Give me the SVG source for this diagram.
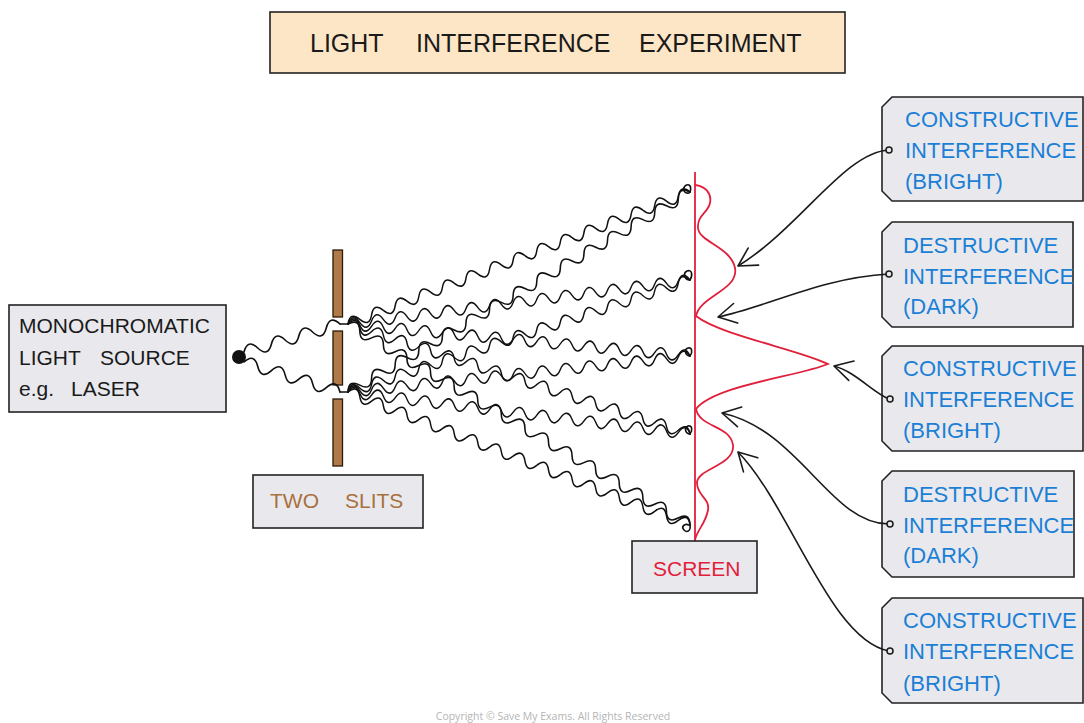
<svg xmlns="http://www.w3.org/2000/svg" xmlns:xlink="http://www.w3.org/1999/xlink" width="1084" height="723" viewBox="0 0 1084 723">
  <style>
    .box { fill: #e9e9ed; stroke: #222; stroke-width: 1.6; }
    .title-box { fill: #fde6c6; stroke: #222; stroke-width: 1.6; }
    .lbl { font-family: "Liberation Sans", Arial, sans-serif; font-size: 21px; }
    .dark { fill: #1a1a1a; }
    .blue { fill: #1b7fd6; font-size: 22px; }
    .brown { fill: #a8703c; }
    .red { fill: #e21f3b; }
    .wave { fill: none; stroke: #111; stroke-width: 1.6; vector-effect: non-scaling-stroke; stroke-linecap: round; }
    .conn { fill: none; stroke: #1a1a1a; stroke-width: 1.6; marker-end: url(#chevron); }
    .dot { fill: #e9e9ed; stroke: #1a1a1a; stroke-width: 1.5; }
    .slit { fill: #b07a48; stroke: #2a1a0a; stroke-width: 1.3; }
  </style>
  <defs>
    <!-- sine-like wave, 406 units long, half-wavelength 14 -->
    <path id="wave" d="M0,0 q7,-11 14,0 t14,0 t14,0 t14,0 t14,0 t14,0 t14,0 t14,0 t14,0 t14,0 t14,0 t14,0 t14,0 t14,0 t14,0 t14,0 t14,0 t14,0 t14,0 t14,0 t14,0 t14,0 t14,0 t14,0 t14,0 t14,0 t14,0 t14,0 t14,0"/>
    <!-- shorter wave from the source to the slits -->
    <path id="wave-in" d="M0,0 q7,-12 14,0 t14,0 t14,0 t14,0 t14,0 t14,0 t14,0"/>
    <marker id="chevron" viewBox="-20 -12 22 24" refX="0" refY="0" markerWidth="22" markerHeight="24" markerUnits="userSpaceOnUse" orient="auto">
      <path d="M-18,-10 L0,0 L-18,10" fill="none" stroke="#1a1a1a" stroke-width="1.6" stroke-linecap="round" stroke-linejoin="round"/>
    </marker>
  </defs>

  <rect width="1084" height="723" fill="#ffffff"/>

  <!-- title -->
  <g id="title">
    <rect class="title-box" x="270" y="12" width="575" height="61"/>
    <text class="lbl dark" style="font-size:25px" y="52">
      <tspan x="310">LIGHT</tspan><tspan x="416">INTERFERENCE</tspan><tspan x="639">EXPERIMENT</tspan>
    </text>
  </g>

  <!-- light source -->
  <g id="source">
    <rect class="box" x="9" y="305" width="217" height="107"/>
    <text class="lbl dark" y="333"><tspan x="19">MONOCHROMATIC</tspan></text>
    <text class="lbl dark" y="365"><tspan x="19">LIGHT</tspan><tspan x="100">SOURCE</tspan></text>
    <text class="lbl dark" y="396"><tspan x="19">e.g.</tspan><tspan x="71">LASER</tspan></text>
    <circle cx="239" cy="357" r="7" fill="#111"/>
  </g>

  <!-- double-slit barrier -->
  <g id="slits">
    <rect class="slit" x="333" y="250" width="9.5" height="67"/>
    <rect class="slit" x="333" y="331" width="9.5" height="54"/>
    <rect class="slit" x="333" y="399" width="9.5" height="67"/>
    <rect class="box" x="253" y="475" width="170" height="53"/>
    <text class="lbl brown" y="508"><tspan x="270">TWO</tspan><tspan x="345">SLITS</tspan></text>
  </g>

  <!-- wavefronts -->
  <g id="waves">
    <use xlink:href="#wave-in" class="wave" transform="translate(244,352) rotate(-16.26) scale(1.02,1)"/>
    <use xlink:href="#wave-in" class="wave" transform="translate(244,362) rotate(17.35) scale(1.026,1)"/>
    <path class="wave" d="M340,324 L348,324 M340,392 L348,392"/>
    <!-- from upper slit -->
    <use xlink:href="#wave" class="wave" transform="translate(348,324) rotate(-21.1) scale(0.903,1)"/>
    <use xlink:href="#wave" class="wave" transform="translate(348,324) rotate(-7.33) scale(0.849,1)"/>
    <use xlink:href="#wave" class="wave" transform="translate(348,324) rotate(5.35) scale(0.846,1)"/>
    <use xlink:href="#wave" class="wave" transform="translate(348,324) rotate(17.83) scale(0.885,1)"/>
    <use xlink:href="#wave" class="wave" transform="translate(348,324) rotate(30.44) scale(0.977,1)"/>
    <!-- from lower slit -->
    <use xlink:href="#wave" class="wave" transform="translate(348,392) rotate(-30.31) scale(0.976,1)"/>
    <use xlink:href="#wave" class="wave" transform="translate(348,392) rotate(-18.13) scale(0.886,1)"/>
    <use xlink:href="#wave" class="wave" transform="translate(348,392) rotate(-6.01) scale(0.847,1)"/>
    <use xlink:href="#wave" class="wave" transform="translate(348,392) rotate(7.0) scale(0.849,1)"/>
    <use xlink:href="#wave" class="wave" transform="translate(348,392) rotate(21.25) scale(0.904,1)"/>
    <!-- curls where each pair meets the screen -->
    <path class="wave" d="M690,192 c2,-6 -1,-9 -5,-6 c-3,3 -1,8 4,7"/>
    <path class="wave" d="M690,280 c3,-5 2,-11 -3,-9 c-4,2 -3,8 2,9"/>
    <path class="wave" d="M690,356 c3,-4 2,-9 -2,-8 c-4,1 -3,7 1,8"/>
    <path class="wave" d="M690,434 c3,-4 2,-9 -2,-8 c-4,1 -3,7 1,8"/>
    <path class="wave" d="M690,525 c1,6 -3,8 -6,5 c-3,-3 0,-7 5,-5"/>
  </g>

  <!-- screen and intensity pattern -->
  <g id="screen">
    <line x1="695" y1="172" x2="695" y2="541" stroke="#e21f3b" stroke-width="1.8"/>
    <path d="M695,185 C705,186 712,193 710,203 C708,213 697,215 698,228 C699,242 731,247 735,268 C739,290 700,296 696,316 C720,335 800,350 828,364 C800,376 715,385 696,409 C700,428 730,425 733,445 C735,466 697,468 697,483 C697,496 710,498 708,510 C706,523 697,530 695,540" fill="none" stroke="#e21f3b" stroke-width="1.8"/>
    <rect class="box" x="632" y="541" width="125" height="52"/>
    <text class="lbl red" x="653" y="576">SCREEN</text>
  </g>

  <!-- annotation labels -->
  <g id="label-c1">
    <path class="box" d="M892,97 L1083,97 L1083,201 L892,201 L882,191 L882,107 Z"/>
    <text class="lbl blue" x="905" y="127">CONSTRUCTIVE</text>
    <text class="lbl blue" x="905" y="158">INTERFERENCE</text>
    <text class="lbl blue" x="905" y="189">(BRIGHT)</text>
  </g>
  <g id="label-d1">
    <path class="box" d="M892,222 L1073,222 L1073,327 L892,327 L882,317 L882,232 Z"/>
    <text class="lbl blue" x="903" y="253">DESTRUCTIVE</text>
    <text class="lbl blue" x="903" y="284">INTERFERENCE</text>
    <text class="lbl blue" x="903" y="314">(DARK)</text>
  </g>
  <g id="label-c2">
    <path class="box" d="M892,346 L1083,346 L1083,451 L892,451 L882,441 L882,356 Z"/>
    <text class="lbl blue" x="903" y="376">CONSTRUCTIVE</text>
    <text class="lbl blue" x="903" y="407">INTERFERENCE</text>
    <text class="lbl blue" x="903" y="438">(BRIGHT)</text>
  </g>
  <g id="label-d2">
    <path class="box" d="M892,471 L1074,471 L1074,577 L892,577 L882,567 L882,481 Z"/>
    <text class="lbl blue" x="903" y="502">DESTRUCTIVE</text>
    <text class="lbl blue" x="903" y="533">INTERFERENCE</text>
    <text class="lbl blue" x="903" y="563">(DARK)</text>
  </g>
  <g id="label-c3">
    <path class="box" d="M892,598 L1083,598 L1083,703 L892,703 L882,693 L882,608 Z"/>
    <text class="lbl blue" x="903" y="628">CONSTRUCTIVE</text>
    <text class="lbl blue" x="903" y="659">INTERFERENCE</text>
    <text class="lbl blue" x="903" y="691">(BRIGHT)</text>
  </g>

  <!-- pointers from labels to the pattern -->
  <g id="connectors">
    <path class="conn" d="M889,150 C845,152 800,228 738,266"/>
    <path class="conn" d="M889,274 C820,278 770,306 718,317"/>
    <path class="conn" d="M889,399 C872,392 856,372 834,366"/>
    <path class="conn" d="M889,524 C830,524 800,430 722,413"/>
    <path class="conn" d="M889,651 C830,640 790,505 738,452"/>
    <circle class="dot" cx="889" cy="150" r="3"/>
    <circle class="dot" cx="889" cy="274" r="3"/>
    <circle class="dot" cx="890" cy="399" r="3"/>
    <circle class="dot" cx="890" cy="524" r="3"/>
    <circle class="dot" cx="890" cy="651" r="3"/>
  </g>

  <text x="553" y="720" text-anchor="middle" font-family="'Open Sans', 'Liberation Sans', sans-serif" font-size="10.5" fill="#b4b4b4">Copyright © Save My Exams. All Rights Reserved</text>
</svg>
